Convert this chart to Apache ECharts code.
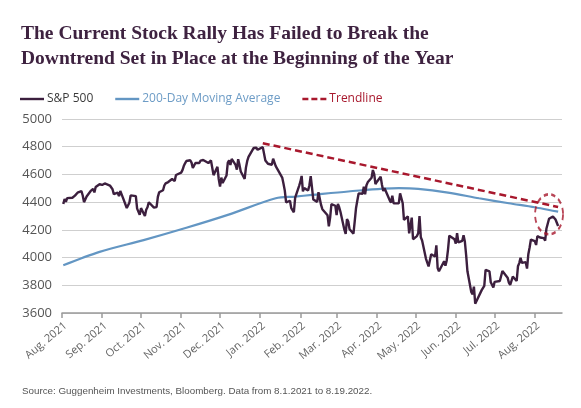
<!DOCTYPE html>
<html>
<head>
<meta charset="utf-8">
<script src="https://cdn.jsdelivr.net/npm/echarts@6/dist/echarts.min.js"></script>
<style>
html,body{margin:0;padding:0;background:#fff;}
#chart{width:581px;height:408px;}
</style>
</head>
<body>
<div id="chart"></div>
<script>
// ---------- DATA ----------
const titleText = 'The Current Stock Rally Has Failed to Break the\nDowntrend Set in Place at the Beginning of the Year';
const sourceText = 'Source: Guggenheim Investments, Bloomberg. Data from 8.1.2021 to 8.19.2022.';
const seriesNames = ['S&P 500', '200-Day Moving Average', 'Trendline'];
const monthLabels = ['Jan.', 'Feb.', 'Mar.', 'Apr.', 'May.', 'Jun.', 'Jul.', 'Aug.', 'Sep.', 'Oct.', 'Nov.', 'Dec.'];
const yTicks = [3600, 3800, 4000, 4200, 4400, 4600, 4800, 5000];

// S&P 500 daily closes, by month
const spMonths = ['2021-08','2021-09','2021-10','2021-11','2021-12','2022-01','2022-02','2022-03','2022-04','2022-05','2022-06','2022-07','2022-08'];
const spDays = [
  [2,3,4,5,6,9,10,11,12,13,16,17,18,19,20,23,24,25,26,27,30,31],
  [1,2,3,7,8,9,10,13,14,15,16,17,20,21,22,23,24,27,28,29,30],
  [1,4,5,6,7,8,11,12,13,14,15,18,19,20,21,22,25,26,27,28,29],
  [1,2,3,4,5,8,9,10,11,12,15,16,17,18,19,22,23,24,26,29,30],
  [1,2,3,6,7,8,9,10,13,14,15,16,17,20,21,22,23,27,28,29,30,31],
  [3,4,5,6,7,10,11,12,13,14,18,19,20,21,24,25,26,27,28,31],
  [1,2,3,4,7,8,9,10,11,14,15,16,17,18,22,23,24,25,28],
  [1,2,3,4,7,8,9,10,11,14,15,16,17,18,21,22,23,24,25,28,29,30,31],
  [1,4,5,6,7,8,11,12,13,14,18,19,20,21,22,25,26,27,28,29],
  [2,3,4,5,6,9,10,11,12,13,16,17,18,19,20,23,24,25,26,27,31],
  [1,2,3,6,7,8,9,10,13,14,15,16,17,21,22,23,24,27,28,29,30],
  [1,5,6,7,8,11,12,13,14,15,18,19,20,21,22,25,26,27,28,29],
  [1,2,3,4,5,8,9,10,11,12,15,16,17,18,19]
];
const spClose = [
  [4387,4423,4402,4429,4437,4432,4436,4447,4460,4468,4479,4448,4400,4405,4441,4479,4486,4496,4470,4509,4529,4523],
  [4524,4537,4535,4520,4514,4493,4458,4468,4443,4481,4473,4433,4358,4354,4396,4449,4455,4443,4353,4360,4308],
  [4357,4300,4345,4363,4399,4391,4361,4351,4364,4438,4471,4486,4520,4536,4549,4545,4567,4575,4552,4596,4605],
  [4613,4631,4660,4680,4697,4702,4685,4646,4649,4683,4682,4700,4689,4704,4698,4682,4690,4701,4595,4655,4567],
  [4513,4577,4538,4592,4686,4701,4668,4712,4669,4635,4710,4669,4621,4568,4649,4697,4726,4791,4786,4793,4778,4766],
  [4797,4794,4701,4696,4677,4670,4713,4726,4660,4663,4577,4533,4483,4398,4410,4357,4350,4327,4432,4516],
  [4546,4589,4478,4501,4484,4522,4587,4504,4419,4402,4472,4475,4380,4349,4305,4226,4289,4385,4374],
  [4306,4387,4363,4329,4201,4171,4278,4260,4204,4173,4263,4358,4412,4463,4461,4512,4457,4520,4543,4576,4632,4603,4530],
  [4546,4583,4526,4481,4500,4488,4413,4397,4447,4392,4391,4463,4459,4394,4272,4297,4175,4183,4288,4132],
  [4155,4175,4300,4147,4123,3991,4001,3936,3930,4024,4008,4088,3924,3901,3901,3974,3941,3979,4058,4158,4132],
  [4101,4177,4109,4121,4161,4116,4018,3901,3750,3735,3790,3667,3675,3765,3760,3796,3912,3901,3822,3819,3785],
  [3825,3831,3845,3903,3899,3855,3819,3802,3791,3863,3831,3937,3960,3999,3962,3967,3921,4024,4073,4130],
  [4119,4091,4155,4152,4145,4140,4122,4210,4208,4280,4297,4305,4275,4284,4228]
];

// 200-day moving average
const maDates = ['2021-08-02','2021-08-30','2021-10-03','2021-11-05','2021-12-07','2022-01-13','2022-01-28','2022-02-10','2022-03-10','2022-04-18','2022-05-03','2022-05-26','2022-06-19','2022-07-12','2022-08-01','2022-08-19'];
const maValues = [3944,4041,4126,4215,4308,4428,4440,4452,4477,4501,4496,4469,4428,4392,4363,4331];

// Trendline
const trendDates = ['2022-01-03','2022-08-19'];
const trendValues = [4825,4365];

// Highlight ring
const ringDate = '2022-08-12';
const ringValue = 4312;

// axis range
const xMin = '2021-08-01';
const xMax = '2022-08-22';

// ---------- BUILD ----------
const pad = n => (n < 10 ? '0' + n : '' + n);
const spData = [];
spMonths.forEach((m, i) => {
  spDays[i].forEach((d, j) => spData.push([m + '-' + pad(d), spClose[i][j]]));
});
const maData = maDates.map((d, i) => [d, maValues[i]]);
const trendData = trendDates.map((d, i) => [d, trendValues[i]]);

const plum = '#3c1f3e';
const blue = '#6396c3';
const red = '#a8182d';

const solidIcon = 'path://M0,0H24V2.4H0Z';
const dashIcon = 'path://M0,0H6V2.4H0Z M9,0H15V2.4H9Z M18,0H24V2.4H18Z';

const chart = echarts.init(document.getElementById('chart'), null, {renderer: 'canvas'});
chart.setOption({
  animation: false,
  backgroundColor: '#fff',
  title: {
    text: titleText,
    left: 16,
    top: 16,
    textStyle: {
      fontFamily: 'Liberation Serif',
      fontWeight: 'bold',
      fontSize: 19.5,
      lineHeight: 25,
      color: '#3e2240'
    }
  },
  legend: {
    left: 20,
    top: 93,
    padding: 0,
    itemWidth: 24,
    itemHeight: 2.4,
    itemGap: 22,
    textStyle: {fontFamily: 'Open Sans', fontSize: 12, padding: [0, 0, 0, -2]},
    data: [
      {name: seriesNames[0], icon: solidIcon, itemStyle: {color: plum}, textStyle: {color: '#3a3a3a'}},
      {name: seriesNames[1], icon: solidIcon, itemStyle: {color: blue}, textStyle: {color: '#6d9cc6'}},
      {name: seriesNames[2], icon: dashIcon, itemStyle: {color: red}, textStyle: {color: red}}
    ]
  },
  grid: {left: 62, right: 19, top: 119, bottom: 95, containLabel: false},
  xAxis: {
    type: 'time',
    min: xMin,
    max: xMax,
    splitNumber: 13,
    minInterval: 28 * 86400000,
    maxInterval: 31 * 86400000,
    axisLine: {show: true, lineStyle: {color: '#9a9a9a', width: 1.5}},
    axisTick: {show: true, length: 5, lineStyle: {color: '#9a9a9a', width: 1.5}},
    splitLine: {show: false},
    axisLabel: {
      rotate: 40,
      margin: 7,
      verticalAlign: 'top',
      fontFamily: 'Open Sans',
      fontSize: 11,
      color: '#666',
      showMinLabel: true,
      formatter: function (v) {
        const d = new Date(v);
        return monthLabels[d.getMonth()] + ' ' + d.getFullYear();
      }
    }
  },
  yAxis: {
    type: 'value',
    min: yTicks[0],
    max: yTicks[yTicks.length - 1],
    interval: yTicks[1] - yTicks[0],
    axisLine: {show: false},
    axisTick: {show: false},
    splitLine: {lineStyle: {color: '#cfcfcf', width: 1.2}},
    axisLabel: {fontFamily: 'Open Sans', fontSize: 13, color: '#555', margin: 10, formatter: v => String(v)}
  },
  series: [
    {
      name: seriesNames[1],
      type: 'line',
      data: maData,
      symbol: 'none',
      smooth: 0.3,
      lineStyle: {color: blue, width: 2.2},
      itemStyle: {color: blue},
      z: 2
    },
    {
      name: seriesNames[0],
      type: 'line',
      data: spData,
      symbol: 'none',
      lineStyle: {color: plum, width: 2.4},
      itemStyle: {color: plum},
      z: 3
    },
    {
      name: seriesNames[2],
      type: 'line',
      data: trendData,
      symbol: 'none',
      lineStyle: {color: red, width: 2.5, type: [7, 4]},
      itemStyle: {color: red},
      z: 4
    },
    {
      name: 'ring',
      type: 'scatter',
      data: [[ringDate, ringValue]],
      symbol: 'circle',
      symbolSize: [28, 40],
      silent: true,
      itemStyle: {color: 'rgba(0,0,0,0)', borderColor: red, borderWidth: 2.2, borderType: [5, 4]},
      z: 5
    }
  ],
  graphic: [
    {
      type: 'text',
      left: 22,
      top: 386,
      style: {text: sourceText, fontFamily: 'Liberation Sans', fontSize: 9.8, fill: '#555'}
    }
  ]
});
</script>
</body>
</html>
